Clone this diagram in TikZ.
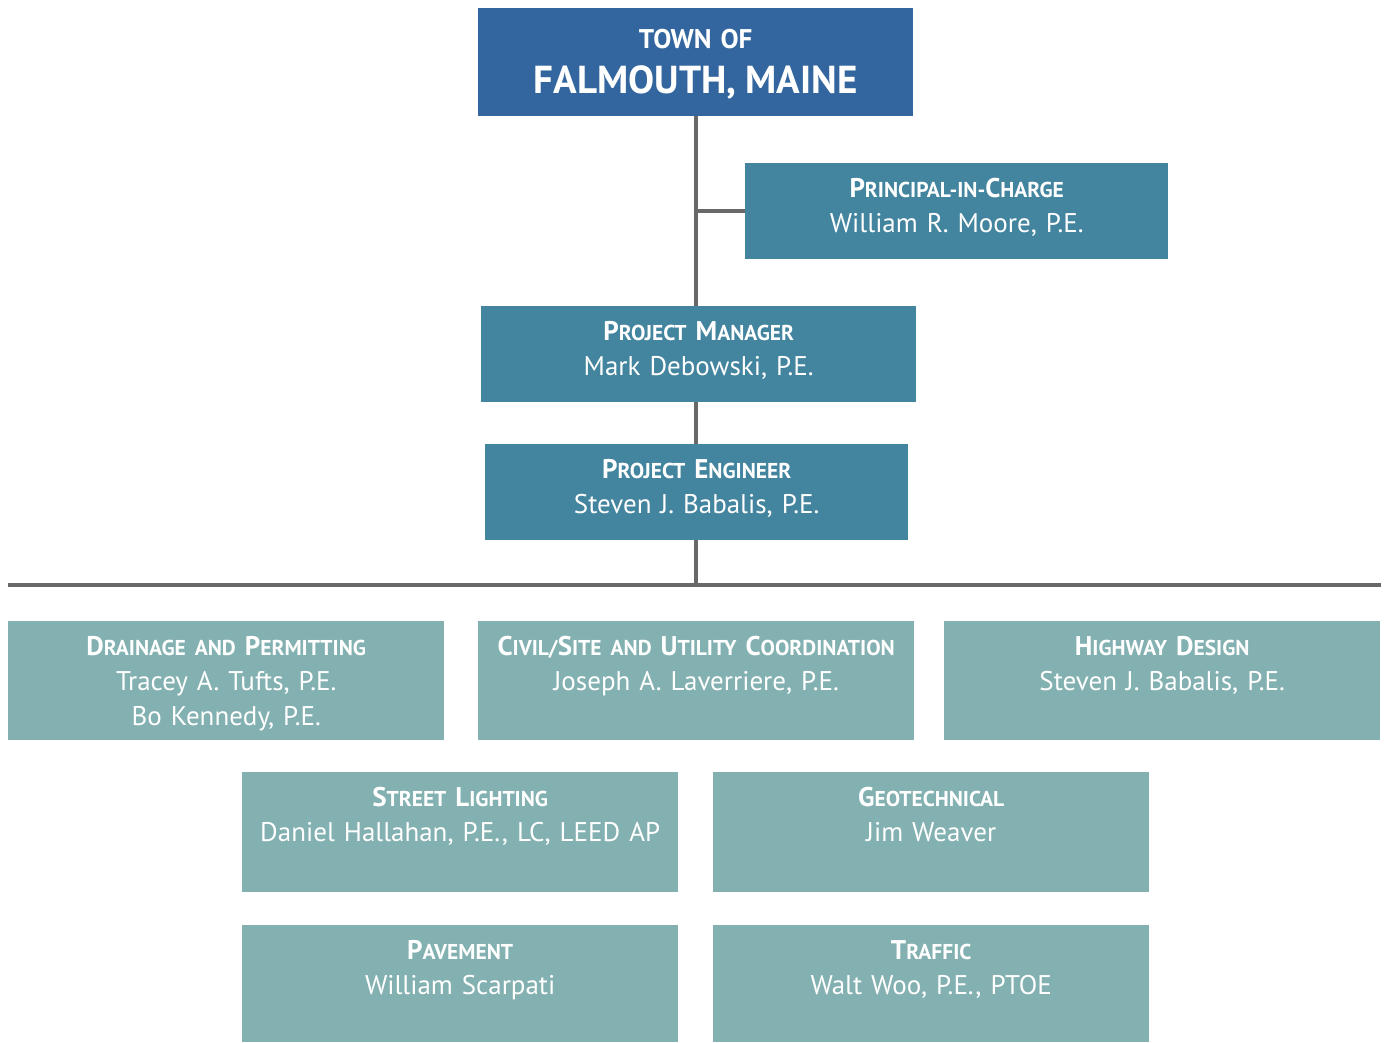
\documentclass[tikz,border=0pt]{standalone}
\usepackage{fontspec}
\setmainfont{PT Sans}
\usepackage{tikz}
\usetikzlibrary{positioning}
\definecolor{townblue}{RGB}{51,102,158}
\definecolor{leadteal}{RGB}{67,132,158}
\definecolor{staffteal}{RGB}{131,176,176}
\definecolor{linegray}{RGB}{104,104,104}
\newcommand{\fsc}[2]{{\fontsize{27}{35}\selectfont#1}{\fontsize{21.5}{35}\selectfont\MakeUppercase{#2}}}

\begin{document}
\begin{tikzpicture}[x=1pt, y=-1pt,
    every node/.style={inner sep=0pt, anchor=north west, text=white, align=center},
    lead/.style={fill=leadteal, font=\fontsize{27}{35}\selectfont,
      text height=34pt, text depth=62pt},
    staff/.style={fill=staffteal, font=\fontsize{27}{35}\selectfont,
      text width=436pt, text height=34pt},
    link/.style={draw=linegray, line width=4pt}]
  \useasboundingbox (0,0) rectangle (1387,1042);
  % client and leads
  \node[fill=townblue, text width=435pt, text height=40pt, text depth=68pt,
    font=\bfseries\fontsize{27}{45}\selectfont] (town) at (478,8)
    {TOWN OF\\{\fontsize{39}{45}\selectfont FALMOUTH, MAINE}};
  \node[lead, text width=423pt] (pic) at (745,163)
    {\textbf{\fsc{P}{rincipal-in-}\fsc{C}{harge}}\\William R. Moore, P.E.};
  \node[lead, text width=435pt] (pm) at (481,306)
    {\textbf{\fsc{P}{roject} \fsc{M}{anager}}\\Mark Debowski, P.E.};
  \node[lead, text width=423pt] (pe) at (485,444)
    {\textbf{\fsc{P}{roject} \fsc{E}{ngineer}}\\Steven J. Babalis, P.E.};
  \coordinate (busL) at (8,585);
  \coordinate (busR) at (1381,585);
  % disciplines
  \node[staff, text depth=85pt] (drain) at (8,621)
    {\textbf{\fsc{D}{rainage and} \fsc{P}{ermitting}}\\Tracey A. Tufts, P.E.\\Bo Kennedy, P.E.};
  \node[staff, text depth=85pt] (civil) at (478,621)
    {\textbf{\fsc{C}{ivil/}\fsc{S}{ite and} \fsc{U}{tility} \fsc{C}{oordination}}\\Joseph A. Laverriere, P.E.};
  \node[staff, text depth=85pt] (hwy) at (944,621)
    {\textbf{\fsc{H}{ighway} \fsc{D}{esign}}\\Steven J. Babalis, P.E.};
  \node[staff, text depth=86pt] (light) at (242,772)
    {\textbf{\fsc{S}{treet} \fsc{L}{ighting}}\\Daniel Hallahan, P.E., LC, LEED AP};
  \node[staff, text depth=86pt] (geo) at (713,772)
    {\textbf{\fsc{G}{eotechnical}}\\Jim Weaver};
  \node[staff, text depth=83pt] (pave) at (242,925)
    {\textbf{\fsc{P}{avement}}\\William Scarpati};
  \node[staff, text depth=83pt] (traf) at (713,925)
    {\textbf{\fsc{T}{raffic}}\\Walt Woo, P.E., PTOE};
  % reporting lines
  \draw[link] (town.south) -- (town.south |- pm.north);
  \draw[link] (town.south |- pm.south) -- (town.south |- pe.north);
  \draw[link] (town.south |- pe.south) -- (town.south |- busL);
  \draw[link] (pic.west) -- (pic.west -| town.south);
  \draw[link] (busL) -- (busR);
\end{tikzpicture}
\end{document}
